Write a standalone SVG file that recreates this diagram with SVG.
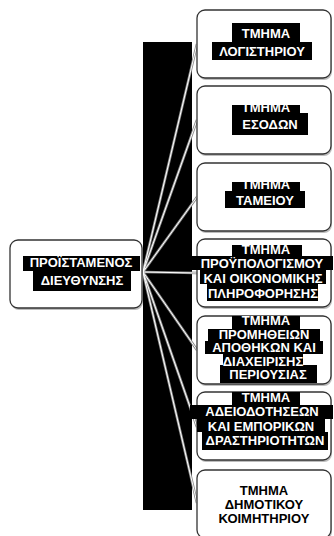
<svg xmlns="http://www.w3.org/2000/svg" width="334" height="536" viewBox="0 0 334 536">
<defs>
<style>
.box{fill:#ffffff;stroke:#333333;stroke-width:1.3}
.sh{fill:#bdbdbd}
.band{fill:#000000}
.t{font-family:"Liberation Sans",Arial,sans-serif;font-size:13px;font-weight:bold;text-anchor:middle;fill:#ffffff}
.tk{font-family:"Liberation Sans",Arial,sans-serif;font-size:13px;font-weight:bold;text-anchor:middle;fill:#000000}
.cO{stroke:#8a8a8a;stroke-width:2.6;fill:none}
.cI{stroke:#ffffff;stroke-width:1;fill:none}
</style>
</defs>
<rect width="334" height="536" fill="#ffffff"/>
<g id="connectors">
<rect class="band" x="143" y="42" width="49" height="468"/>
<g class="cO">
<line x1="143" y1="272" x2="197" y2="44"/>
<line x1="143" y1="272" x2="197" y2="120"/>
<line x1="143" y1="272" x2="197" y2="197"/>
<line x1="143" y1="272" x2="197" y2="273"/>
<line x1="143" y1="272" x2="197" y2="350"/>
<line x1="143" y1="272" x2="197" y2="427"/>
<line x1="143" y1="272" x2="197" y2="503"/>
</g>
<g class="cI">
<line x1="143" y1="272" x2="197" y2="44"/>
<line x1="143" y1="272" x2="197" y2="120"/>
<line x1="143" y1="272" x2="197" y2="197"/>
<line x1="143" y1="272" x2="197" y2="273"/>
<line x1="143" y1="272" x2="197" y2="350"/>
<line x1="143" y1="272" x2="197" y2="427"/>
<line x1="143" y1="272" x2="197" y2="503"/>
</g>
</g>
<g id="parent">
<rect class="sh" x="11" y="242" width="132" height="68" rx="8"/>
<rect class="box" x="10" y="240" width="132" height="68" rx="8"/>
<rect class="band" x="23" y="256" width="117" height="15"/>
<rect class="band" x="33" y="270" width="98" height="21"/>
<text class="t" x="81" y="267">ΠΡΟΪΣΤΑΜΕΝΟΣ</text>
<text class="t" x="82" y="285">ΔΙΕΥΘΥΝΣΗΣ</text>
</g>
<g id="n1">
<rect class="sh" x="198" y="12" width="134" height="68" rx="8"/>
<rect class="box" x="197" y="10" width="134" height="68" rx="8"/>
<rect class="band" x="232" y="23" width="68" height="19"/>
<rect class="band" x="212" y="42" width="100" height="18"/>
<text class="t" x="266" y="38">ΤΜΗΜΑ</text>
<text class="t" x="262" y="56">ΛΟΓΙΣΤΗΡΙΟΥ</text>
</g>
<g id="n2">
<rect class="sh" x="198" y="88" width="134" height="68" rx="8"/>
<rect class="box" x="197" y="86" width="134" height="68" rx="8"/>
<rect class="band" x="232" y="105" width="68" height="8"/>
<rect class="band" x="232" y="113" width="76" height="22"/>
<text class="t" x="266" y="112">ΤΜΗΜΑ</text>
<text class="t" x="270" y="129">ΕΣΟΔΩΝ</text>
</g>
<g id="n3">
<rect class="sh" x="198" y="165" width="134" height="68" rx="8"/>
<rect class="box" x="197" y="163" width="134" height="68" rx="8"/>
<rect class="band" x="232" y="182" width="68" height="9"/>
<rect class="band" x="225" y="191" width="80" height="17"/>
<text class="t" x="266" y="189">ΤΜΗΜΑ</text>
<text class="t" x="265" y="205">ΤΑΜΕΙΟΥ</text>
</g>
<g id="n4">
<rect class="sh" x="198" y="241" width="134" height="68" rx="8"/>
<rect class="box" x="197" y="239" width="134" height="68" rx="8"/>
<rect class="band" x="232" y="245" width="70" height="11"/>
<rect class="band" x="190" y="256" width="143" height="14"/>
<rect class="band" x="200" y="270" width="126" height="14"/>
<rect class="band" x="207" y="284" width="111" height="17"/>
<text class="t" x="266" y="254">ΤΜΗΜΑ</text>
<text class="t" x="262" y="268">ΠΡΟΫΠΟΛΟΓΙΣΜΟΥ</text>
<text class="t" x="263" y="283">ΚΑΙ ΟΙΚΟΝΟΜΙΚΗΣ</text>
<text class="t" x="263" y="298">ΠΛΗΡΟΦΟΡΗΣΗΣ</text>
</g>
<g id="n5">
<rect class="sh" x="198" y="318" width="134" height="68" rx="8"/>
<rect class="box" x="197" y="316" width="134" height="68" rx="8"/>
<rect class="band" x="232" y="316" width="68" height="13"/>
<rect class="band" x="208" y="329" width="112" height="12"/>
<rect class="band" x="205" y="341" width="118" height="13"/>
<rect class="band" x="223" y="354" width="80" height="11"/>
<rect class="band" x="220" y="365" width="97" height="18"/>
<text class="t" x="266" y="325">ΤΜΗΜΑ</text>
<text class="t" x="264" y="338.5">ΠΡΟΜΗΘΕΙΩΝ</text>
<text class="t" x="264" y="352">ΑΠΟΘΗΚΩΝ ΚΑΙ</text>
<text class="t" x="263" y="365.5">ΔΙΑΧΕΙΡΙΣΗΣ</text>
<text class="t" x="268" y="379">ΠΕΡΙΟΥΣΙΑΣ</text>
</g>
<g id="n6">
<rect class="sh" x="198" y="394" width="134" height="68" rx="8"/>
<rect class="box" x="197" y="392" width="134" height="68" rx="8"/>
<rect class="band" x="232" y="392" width="68" height="13"/>
<rect class="band" x="190" y="405" width="143" height="14"/>
<rect class="band" x="197" y="419" width="128" height="13"/>
<rect class="band" x="202" y="432" width="126" height="18"/>
<text class="t" x="266" y="402">ΤΜΗΜΑ</text>
<text class="t" x="262" y="416">ΑΔΕΙΟΔΟΤΗΣΕΩΝ</text>
<text class="t" x="261" y="430.5">ΚΑΙ ΕΜΠΟΡΙΚΩΝ</text>
<text class="t" x="265" y="445">ΔΡΑΣΤΗΡΙΟΤΗΤΩΝ</text>
</g>
<g id="n7">
<rect class="sh" x="198" y="472" width="134" height="68" rx="8"/>
<rect class="box" x="197" y="470" width="134" height="68" rx="8"/>
<text class="tk" x="264" y="495">ΤΜΗΜΑ</text>
<text class="tk" x="264" y="509">ΔΗΜΟΤΙΚΟΥ</text>
<text class="tk" x="264" y="523">ΚΟΙΜΗΤΗΡΙΟΥ</text>
</g>
</svg>
